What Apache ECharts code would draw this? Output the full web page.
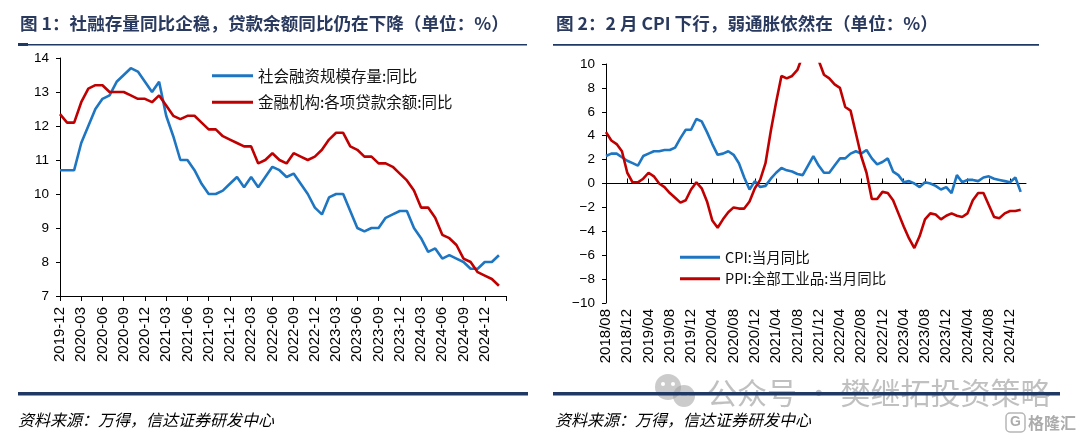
<!DOCTYPE html>
<html>
<head>
<meta charset="utf-8">
<script src="https://cdn.jsdelivr.net/npm/echarts@6/dist/echarts.min.js"></script>
<style>
html,body{margin:0;padding:0;background:#fff;}
#c{width:1080px;height:440px;}
</style>
</head>
<body>
<div id="c"></div>
<script>
// ---------- Chart 1 data (monthly, %) ----------
const leftMonths = [
  '2019-12',
  '2020-01','2020-02','2020-03','2020-04','2020-05','2020-06','2020-07','2020-08','2020-09','2020-10','2020-11','2020-12',
  '2021-01','2021-02','2021-03','2021-04','2021-05','2021-06','2021-07','2021-08','2021-09','2021-10','2021-11','2021-12',
  '2022-01','2022-02','2022-03','2022-04','2022-05','2022-06','2022-07','2022-08','2022-09','2022-10','2022-11','2022-12',
  '2023-01','2023-02','2023-03','2023-04','2023-05','2023-06','2023-07','2023-08','2023-09','2023-10','2023-11','2023-12',
  '2024-01','2024-02','2024-03','2024-04','2024-05','2024-06','2024-07','2024-08','2024-09','2024-10','2024-11','2024-12',
  '2025-01','2025-02','2025-03'
];
const socialFinancingYoY = [
  10.7,
  10.7,10.7,11.5,12.0,12.5,12.8,12.9,13.3,13.5,13.7,13.6,13.3,
  13.0,13.3,12.3,11.7,11.0,11.0,10.7,10.3,10.0,10.0,10.1,10.3,
  10.5,10.2,10.5,10.2,10.5,10.8,10.7,10.5,10.6,10.3,10.0,9.6,
  9.4,9.9,10.0,10.0,9.5,9.0,8.9,9.0,9.0,9.3,9.4,9.5,
  9.5,9.0,8.7,8.3,8.4,8.1,8.2,8.1,8.0,7.8,7.8,8.0,
  8.0,8.2,null
];
const loanBalanceYoY = [
  12.35,
  12.1,12.1,12.7,13.1,13.2,13.2,13.0,13.0,13.0,12.9,12.8,12.8,
  12.7,12.9,12.6,12.3,12.2,12.3,12.3,12.1,11.9,11.9,11.7,11.6,
  11.5,11.4,11.4,10.9,11.0,11.2,11.0,10.9,11.2,11.1,11.0,11.1,
  11.3,11.6,11.8,11.8,11.4,11.3,11.1,11.1,10.9,10.9,10.8,10.6,
  10.4,10.1,9.6,9.6,9.3,8.8,8.7,8.5,8.1,8.0,7.7,7.6,
  7.5,7.3,null
];
const leftYTicks = {min:7, max:14, step:1};

// ---------- Chart 2 data (monthly, %) ----------
const rightMonths = [
  '2018/08','2018/09','2018/10','2018/11','2018/12',
  '2019/01','2019/02','2019/03','2019/04','2019/05','2019/06','2019/07','2019/08','2019/09','2019/10','2019/11','2019/12',
  '2020/01','2020/02','2020/03','2020/04','2020/05','2020/06','2020/07','2020/08','2020/09','2020/10','2020/11','2020/12',
  '2021/01','2021/02','2021/03','2021/04','2021/05','2021/06','2021/07','2021/08','2021/09','2021/10','2021/11','2021/12',
  '2022/01','2022/02','2022/03','2022/04','2022/05','2022/06','2022/07','2022/08','2022/09','2022/10','2022/11','2022/12',
  '2023/01','2023/02','2023/03','2023/04','2023/05','2023/06','2023/07','2023/08','2023/09','2023/10','2023/11','2023/12',
  '2024/01','2024/02','2024/03','2024/04','2024/05','2024/06','2024/07','2024/08','2024/09','2024/10','2024/11','2024/12',
  '2025/01','2025/02','2025/03'
];
const cpiYoY = [
  2.3,2.5,2.5,2.2,1.9,
  1.7,1.5,2.3,2.5,2.7,2.7,2.8,2.8,3.0,3.8,4.5,4.5,
  5.4,5.2,4.3,3.3,2.4,2.5,2.7,2.4,1.7,0.5,-0.5,0.2,
  -0.3,-0.2,0.4,0.9,1.3,1.1,1.0,0.8,0.7,1.5,2.3,1.5,
  0.9,0.9,1.5,2.1,2.1,2.5,2.7,2.5,2.8,2.1,1.6,1.8,
  2.1,1.0,0.7,0.1,0.2,0.0,-0.3,0.1,0.0,-0.2,-0.5,-0.3,
  -0.8,0.7,0.1,0.3,0.3,0.2,0.5,0.6,0.4,0.3,0.2,0.1,
  0.5,-0.7,null
];
const ppiYoY = [
  4.3,3.6,3.3,2.7,0.9,
  0.1,0.1,0.4,0.9,0.6,0.0,-0.3,-0.8,-1.2,-1.6,-1.4,-0.5,
  0.1,-0.4,-1.5,-3.1,-3.7,-3.0,-2.4,-2.0,-2.1,-2.1,-1.5,-0.4,
  0.3,1.7,4.4,6.8,9.0,8.8,9.0,9.5,10.7,13.5,12.9,10.3,
  9.1,8.8,8.3,8.0,6.4,6.1,4.2,2.3,0.9,-1.3,-1.3,-0.7,
  -0.8,-1.4,-2.5,-3.6,-4.6,-5.4,-4.4,-3.0,-2.5,-2.6,-3.0,-2.7,
  -2.5,-2.7,-2.8,-2.5,-1.4,-0.8,-0.8,-1.8,-2.8,-2.9,-2.5,-2.3,
  -2.3,-2.2,null
];
const rightYTicks = {min:-10, max:10, step:2};

// ---------- Texts ----------
const title1 = '图 1：社融存量同比企稳，贷款余额同比仍在下降（单位：%）';
const title2 = '图 2：2 月 CPI 下行，弱通胀依然在（单位：%）';
const sourceText = '资料来源：万得，信达证券研发中心';
const seriesNames = ['社会融资规模存量:同比','金融机构:各项贷款余额:同比','CPI:当月同比','PPI:全部工业品:当月同比'];
const watermarkText = '公众号 · 樊继拓投资策略';
const logoText = '格隆汇';

// ---------- Styles ----------
const BLUE = '#1E76C2';
const RED = '#C00000';
const NAVY = '#1F3864';
const TITLE_COLOR = '#2A3A5E';
const NUM_FONT = '"Liberation Sans", Arial, sans-serif';
const CJK_FONT = '"Noto Sans CJK SC", sans-serif';

const chart = echarts.init(document.getElementById('c'), null, {renderer:'canvas'});

const axisLineStyle = {color:'#000', width:1};
const minusFmt = v => String(v).replace('-', '\u2212');

const option = {
  animation: false,
  backgroundColor: '#fff',
  grid: [
    {left:60, top:58, width:446, height:238},
    {left:606, top:64, width:420, height:239}
  ],
  xAxis: [
    {
      gridIndex:0, type:'category', data:leftMonths, boundaryGap:false,
      axisLine:{onZero:false, lineStyle:axisLineStyle},
      axisTick:{interval:(i)=> i%3===0, length:5, lineStyle:axisLineStyle},
      axisLabel:{interval:(i)=> i%3===0 && i<leftMonths.length-1, rotate:90, margin:11,
                 fontSize:15, color:'#000', fontFamily:NUM_FONT},
      splitLine:{show:false}
    },
    {
      gridIndex:1, type:'category', data:rightMonths, boundaryGap:false,
      axisLine:{onZero:true, lineStyle:axisLineStyle},
      axisTick:{inside:true, interval:(i)=> i%4===0, length:5, lineStyle:axisLineStyle},
      axisLabel:{show:false},
      splitLine:{show:false}
    },
    {
      gridIndex:1, type:'category', data:rightMonths, boundaryGap:false, position:'bottom',
      axisLine:{show:false, onZero:false},
      axisTick:{show:false},
      axisLabel:{interval:(i)=> i%4===0 && i<rightMonths.length-1, rotate:90, margin:6,
                 fontSize:15, color:'#000', fontFamily:NUM_FONT},
      splitLine:{show:false}
    }
  ],
  yAxis: [
    {
      gridIndex:0, type:'value', min:leftYTicks.min, max:leftYTicks.max, interval:leftYTicks.step,
      axisLine:{show:true, onZero:false, lineStyle:axisLineStyle},
      axisTick:{show:true, length:4, lineStyle:axisLineStyle},
      axisLabel:{margin:11, fontSize:13.5, color:'#000', fontFamily:NUM_FONT},
      splitLine:{show:false}
    },
    {
      gridIndex:1, type:'value', min:rightYTicks.min, max:rightYTicks.max, interval:rightYTicks.step,
      axisLine:{show:true, onZero:false, lineStyle:axisLineStyle},
      axisTick:{show:true, length:4, lineStyle:axisLineStyle},
      axisLabel:{margin:11, fontSize:13.5, color:'#000', fontFamily:NUM_FONT, formatter:minusFmt},
      splitLine:{show:false}
    }
  ],
  legend: [
    {
      data:[seriesNames[0], seriesNames[1]], orient:'vertical', left:207, top:63,
      icon:'rect', itemWidth:41, itemHeight:3, itemGap:11,
      textStyle:{fontSize:15.5, color:'#111', fontFamily:CJK_FONT}
    },
    {
      data:[seriesNames[2], seriesNames[3]], orient:'vertical', left:675, top:245,
      icon:'rect', itemWidth:40, itemHeight:3, itemGap:7,
      textStyle:{fontSize:14.5, color:'#111', fontFamily:CJK_FONT}
    }
  ],
  series: [
    {name:seriesNames[0], type:'line', xAxisIndex:0, yAxisIndex:0, data:socialFinancingYoY,
     symbol:'none', lineStyle:{color:BLUE, width:2.6}, itemStyle:{color:BLUE}},
    {name:seriesNames[1], type:'line', xAxisIndex:0, yAxisIndex:0, data:loanBalanceYoY,
     symbol:'none', lineStyle:{color:RED, width:2.6}, itemStyle:{color:RED}},
    {name:seriesNames[2], type:'line', xAxisIndex:1, yAxisIndex:1, data:cpiYoY,
     symbol:'none', lineStyle:{color:BLUE, width:2.6}, itemStyle:{color:BLUE}},
    {name:seriesNames[3], type:'line', xAxisIndex:1, yAxisIndex:1, data:ppiYoY,
     symbol:'none', lineStyle:{color:RED, width:2.6}, itemStyle:{color:RED}}
  ],
  graphic: [
    // titles
    {type:'text', left:20, top:15, style:{text:title1, fill:TITLE_COLOR, font:'bold 17.6px ' + CJK_FONT}},
    {type:'text', left:556, top:15, style:{text:title2, fill:TITLE_COLOR, font:'bold 17.6px ' + CJK_FONT}},
    // title underlines
    {type:'rect', shape:{x:18, y:44, width:509, height:1.5}, style:{fill:NAVY}},
    {type:'rect', shape:{x:18, y:43, width:10, height:3}, style:{fill:NAVY}},
    {type:'rect', shape:{x:553, y:44, width:486, height:1.8}, style:{fill:NAVY}},
    // watermark (behind bottom line)
    {type:'group', z:1, children:[
      {type:'circle', shape:{cx:668, cy:387, r:13}, style:{fill:'rgba(160,160,160,0.55)'}},
      {type:'circle', shape:{cx:684, cy:396, r:11}, style:{fill:'rgba(160,160,160,0.55)'}},
      {type:'circle', shape:{cx:663, cy:384, r:2}, style:{fill:'#fff'}},
      {type:'circle', shape:{cx:673, cy:384, r:2}, style:{fill:'#fff'}},
      {type:'circle', shape:{cx:680, cy:394, r:1.6}, style:{fill:'#fff'}},
      {type:'circle', shape:{cx:688, cy:394, r:1.6}, style:{fill:'#fff'}},
      {type:'text', x:707, y:393, style:{text:watermarkText, fill:'rgba(150,150,150,0.6)',
        font:'30px ' + CJK_FONT, textVerticalAlign:'middle'}}
    ]},
    // bottom lines
    {type:'rect', z:5, shape:{x:18, y:392, width:510, height:3.5}, style:{fill:NAVY}},
    {type:'rect', z:5, shape:{x:553, y:392, width:507, height:3.5}, style:{fill:NAVY}},
    // sources
    {type:'text', left:18, top:412, style:{text:sourceText, fill:'#000', font:'italic 16px ' + CJK_FONT}},
    {type:'text', left:555, top:412, style:{text:sourceText, fill:'#000', font:'italic 16px ' + CJK_FONT}},
    // logo
    {type:'group', z:1, children:[
      {type:'rect', shape:{x:1006, y:413, width:19, height:19, r:4}, style:{fill:'none', stroke:'rgba(150,150,150,0.7)', lineWidth:1.5}},
      {type:'text', x:1015.5, y:422.5, style:{text:'G', fill:'rgba(150,150,150,0.8)', font:'bold 14px ' + NUM_FONT, textAlign:'center', textVerticalAlign:'middle'}},
      {type:'text', x:1028, y:422.5, style:{text:logoText, fill:'rgba(150,150,150,0.8)', font:'bold 16px ' + CJK_FONT, textVerticalAlign:'middle'}}
    ]}
  ]
};
chart.setOption(option);
</script>
</body>
</html>
